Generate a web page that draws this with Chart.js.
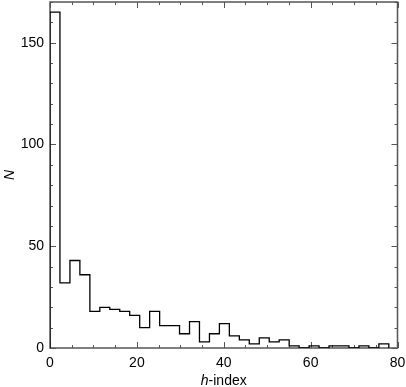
<!DOCTYPE html>
<html><head><meta charset="utf-8">
<style>html,body{margin:0;padding:0;background:#fff;}#wrap{width:406px;height:387px;}</style>
<script src="https://cdn.jsdelivr.net/npm/chart.js@4/dist/chart.umd.min.js"></script>
</head><body><div id="wrap"><canvas id="c" width="406" height="387"></canvas></div>
<script>
// Histogram of h-index: bin left edges (plus final right edge) and counts per bin
const binEdges = [0, 2.29, 4.59, 6.88, 9.18, 11.47, 13.76, 16.06, 18.35, 20.65, 22.94, 25.24, 27.53, 29.82, 32.12, 34.41, 36.71, 39.00, 41.29, 43.59, 45.88, 48.18, 50.47, 52.76, 55.06, 57.35, 59.65, 61.94, 64.24, 66.53, 68.82, 71.12, 73.41, 75.71, 78.00];
const counts = [165, 32, 43, 36, 18, 20, 19, 18, 16, 10, 18, 11, 11, 7, 13, 3, 7, 12, 6, 4, 2, 5, 3, 4, 1, 0, 1, 0, 1, 1, 0, 1, 0, 2];
const xTickLabels = [0, 20, 40, 60, 80];
const yTickLabels = [0, 50, 100, 150];
const xMinorTicks = [0, 5, 10, 15, 20, 25, 30, 35, 40, 45, 50, 55, 60, 65, 70, 75, 80];
const yMinorTicks = [0, 10, 20, 30, 40, 50, 60, 70, 80, 90, 100, 110, 120, 130, 140, 150, 160, 170];
const xTitleItalic = 'h';
const xTitleRest = '-index';
const yTitle = 'N';

const points = [{x: binEdges[0], y: 0}];
counts.forEach((c, i) => points.push({x: binEdges[i], y: c}));
points.push({x: binEdges[binEdges.length - 1], y: 0});

const FONT = 'Liberation Sans, Arial, Helvetica, sans-serif';
const frameColor = '#555';

const framePlugin = {
  id: 'frame',
  beforeDatasetsDraw(chart) {
    const {ctx, chartArea: a, scales} = chart;
    ctx.save();
    ctx.strokeStyle = frameColor;
    ctx.lineWidth = 1.5;
    ctx.strokeRect(a.left, a.top, a.right - a.left, a.bottom - a.top);
    ctx.lineWidth = 1;
    ctx.beginPath();
    xMinorTicks.forEach(v => {
      const px = Math.round(scales.x.getPixelForValue(v)) + 0.5;
      const len = xTickLabels.includes(v) ? 6 : 3;
      ctx.moveTo(px, a.bottom); ctx.lineTo(px, a.bottom - len);
      ctx.moveTo(px, a.top); ctx.lineTo(px, a.top + len);
    });
    yMinorTicks.forEach(v => {
      const py = Math.round(scales.y.getPixelForValue(v)) + 0.5;
      const len = yTickLabels.includes(v) ? 6 : 3;
      ctx.moveTo(a.left, py); ctx.lineTo(a.left + len, py);
      ctx.moveTo(a.right, py); ctx.lineTo(a.right - len, py);
    });
    ctx.stroke();
    ctx.restore();
  },
  afterDraw(chart) {
    const {ctx, chartArea: a} = chart;
    ctx.save();
    ctx.fillStyle = '#000';
    ctx.textBaseline = 'middle';
    const fi = 'italic 14px ' + FONT, fr = '14px ' + FONT;
    ctx.font = fi; const w1 = ctx.measureText(xTitleItalic).width;
    ctx.font = fr; const w2 = ctx.measureText(xTitleRest).width;
    const cx = (a.left + a.right) / 2;
    const x0 = cx - (w1 + w2) / 2;
    const ty = 381;
    ctx.textAlign = 'left';
    ctx.font = fi; ctx.fillText(xTitleItalic, x0, ty);
    ctx.font = fr; ctx.fillText(xTitleRest, x0 + w1, ty);
    ctx.translate(10, (a.top + a.bottom) / 2);
    ctx.rotate(-Math.PI / 2);
    ctx.textAlign = 'center';
    ctx.font = fi;
    ctx.fillText(yTitle, 0, 0);
    ctx.restore();
  }
};

function zeroPad(s) { s.paddingTop = 0; s.paddingBottom = 0; s.paddingLeft = 0; s.paddingRight = 0; }

new Chart(document.getElementById('c'), {
  type: 'line',
  data: {
    datasets: [{
      data: points,
      stepped: true,
      borderColor: '#000',
      borderWidth: 1.3,
      pointRadius: 0,
      fill: false,
      tension: 0
    }]
  },
  options: {
    responsive: false,
    animation: false,
    plugins: {legend: {display: false}, tooltip: {enabled: false}},
    layout: {padding: {top: 2, right: 8.5, left: 0, bottom: 0}},
    scales: {
      x: {
        type: 'linear', min: 0, max: 80,
        afterBuildTicks: s => { s.ticks = xTickLabels.map(v => ({value: v})); },
        afterFit: s => { s.height = 39; zeroPad(s); },
        grid: {display: false, drawTicks: false},
        border: {display: false},
        ticks: {font: {family: FONT, size: 14}, color: '#000', padding: 7, maxRotation: 0, autoSkip: false}
      },
      y: {
        type: 'linear', min: 0, max: 170,
        afterBuildTicks: s => { s.ticks = yTickLabels.map(v => ({value: v})); },
        afterFit: s => { s.width = 50; zeroPad(s); },
        grid: {display: false, drawTicks: false},
        border: {display: false},
        ticks: {font: {family: FONT, size: 14}, color: '#000', padding: 6, autoSkip: false}
      }
    }
  },
  plugins: [framePlugin]
});
</script>
</body></html>
